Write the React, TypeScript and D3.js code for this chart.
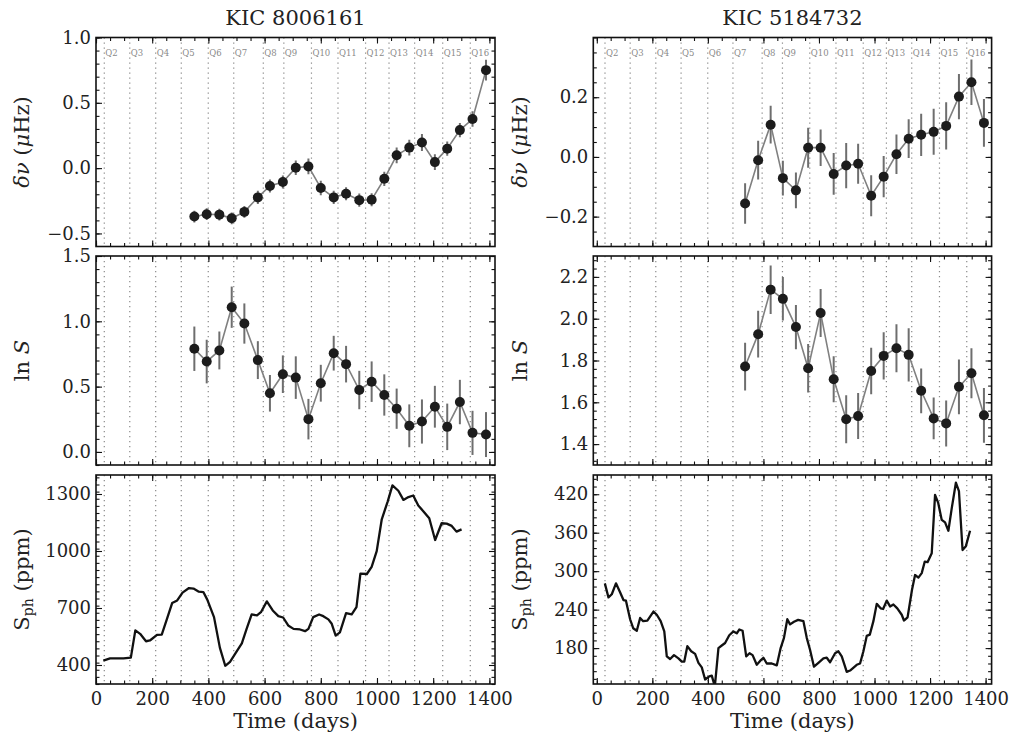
import React, { useEffect, useRef } from 'react';
import * as d3 from 'd3';

// quarter start lines (days) and their names
const quarterNames = ['Q2', 'Q3', 'Q4', 'Q5', 'Q6', 'Q7', 'Q8', 'Q9', 'Q10', 'Q11', 'Q12', 'Q13', 'Q14', 'Q15', 'Q16'];
const quarterStarts = [29.5, 120.2, 212.4, 303.5, 399.5, 490.2, 595.4, 668.5, 766.8, 861.2, 959.4, 1042.8, 1134, 1233.9, 1332.1];

// KIC 8006161
const timeA = [350, 394, 439, 483, 528, 576, 619, 665, 711, 756, 800, 846, 890, 937, 981, 1026, 1070, 1115, 1160, 1206, 1250, 1295, 1340, 1388];
const dnuA = [-0.371, -0.353, -0.356, -0.384, -0.335, -0.224, -0.137, -0.106, 0.003, 0.013, -0.152, -0.224, -0.196, -0.245, -0.242, -0.082, 0.098, 0.157, 0.196, 0.046, 0.149, 0.291, 0.376, 0.75];
const dnuErrA = [0.045, 0.045, 0.045, 0.045, 0.045, 0.05, 0.05, 0.05, 0.055, 0.06, 0.055, 0.05, 0.05, 0.05, 0.05, 0.055, 0.06, 0.06, 0.065, 0.06, 0.055, 0.055, 0.06, 0.08];
const lnSA = [0.79, 0.692, 0.777, 1.108, 0.983, 0.703, 0.449, 0.595, 0.569, 0.251, 0.526, 0.756, 0.672, 0.474, 0.538, 0.436, 0.331, 0.2, 0.233, 0.346, 0.192, 0.382, 0.146, 0.133];
const lnSErrA = [0.17, 0.167, 0.145, 0.158, 0.154, 0.145, 0.14, 0.144, 0.163, 0.155, 0.141, 0.133, 0.14, 0.147, 0.155, 0.158, 0.154, 0.164, 0.169, 0.16, 0.178, 0.17, 0.169, 0.172];
const sphTimeA = [26, 50, 98, 124, 140, 157, 178, 192, 217, 234, 252, 271, 289, 308, 331, 347, 366, 382, 396, 420, 441, 460, 477, 495, 519, 536, 554, 573, 587, 608, 629, 649, 666, 684, 703, 726, 744, 756, 773, 794, 809, 827, 839, 853, 868, 890, 910, 927, 941, 964, 981, 999, 1017, 1038, 1055, 1076, 1094, 1112, 1129, 1147, 1164, 1186, 1207, 1230, 1248, 1266, 1283, 1301];
const sphA = [423, 435, 435, 439, 582, 564, 525, 529, 559, 560, 640, 726, 740, 781, 805, 802, 786, 784, 744, 652, 490, 396, 417, 458, 514, 590, 666, 661, 678, 735, 687, 657, 650, 608, 590, 587, 578, 590, 652, 666, 657, 640, 617, 555, 572, 673, 666, 705, 881, 879, 916, 999, 1167, 1260, 1345, 1317, 1269, 1284, 1292, 1239, 1211, 1172, 1058, 1146, 1144, 1132, 1102, 1114];

// KIC 5184732
const timeB = [534, 581, 626, 670, 717, 761, 806, 853, 898, 941, 988, 1033, 1079, 1123, 1168, 1213, 1258, 1304, 1349, 1394];
const dnuB = [-0.156, -0.011, 0.108, -0.071, -0.112, 0.031, 0.031, -0.057, -0.029, -0.023, -0.13, -0.066, 0.009, 0.061, 0.074, 0.084, 0.104, 0.202, 0.25, 0.114];
const dnuErrB = [0.068, 0.065, 0.063, 0.058, 0.06, 0.067, 0.061, 0.07, 0.076, 0.067, 0.069, 0.069, 0.066, 0.065, 0.071, 0.077, 0.079, 0.076, 0.076, 0.08];
const lnSB = [1.771, 1.926, 2.139, 2.095, 1.96, 1.763, 2.027, 1.71, 1.519, 1.534, 1.75, 1.822, 1.859, 1.827, 1.655, 1.523, 1.499, 1.674, 1.739, 1.538];
const lnSErrB = [0.114, 0.112, 0.116, 0.104, 0.106, 0.116, 0.115, 0.11, 0.115, 0.11, 0.111, 0.113, 0.115, 0.127, 0.107, 0.1, 0.11, 0.131, 0.12, 0.131];
const sphTimeB = [29, 42, 54, 69, 83, 96, 105, 120, 131, 144, 156, 167, 182, 204, 216, 230, 243, 252, 264, 278, 294, 306, 315, 326, 340, 354, 366, 378, 390, 405, 414, 425, 438, 450, 462, 477, 492, 504, 513, 525, 538, 550, 561, 576, 588, 600, 612, 630, 648, 662, 674, 686, 696, 710, 725, 744, 756, 768, 782, 798, 816, 828, 840, 858, 870, 882, 894, 900, 912, 936, 948, 960, 972, 983, 996, 1008, 1022, 1031, 1044, 1056, 1068, 1082, 1098, 1106, 1119, 1135, 1146, 1158, 1170, 1181, 1191, 1206, 1218, 1229, 1242, 1254, 1266, 1278, 1293, 1304, 1317, 1329, 1344];
const sphB = [281, 259, 264, 281, 268, 255, 254, 225, 211, 207, 227, 222, 223, 237, 232, 222, 206, 167, 163, 169, 164, 159, 159, 183, 175, 171, 157, 150, 131, 136, 137, 120, 180, 184, 188, 200, 206, 203, 209, 207, 167, 172, 169, 154, 160, 165, 156, 156, 153, 180, 196, 225, 217, 221, 224, 222, 196, 177, 151, 157, 164, 165, 158, 172, 175, 167, 151, 143, 145, 154, 156, 175, 199, 201, 222, 249, 242, 241, 254, 245, 248, 242, 232, 223, 228, 271, 294, 290, 297, 315, 314, 328, 419, 407, 380, 376, 363, 398, 438, 425, 333, 339, 363];

// per column x domain and pixel range
const xDomains = [[0, 1420], [-12.6, 1421.6]];
const colX = [96, 593.3];
const panelW = [399, 398.3];
const rowY = [37.5, 256, 475];
const panelH = 209;

type Panel = {
  col: number; row: number; yDomain: number[]; yMajor: number[]; yMinorStep: number; fmt: string;
  points?: { t: number[]; v: number[]; e: number[] }; curve?: { t: number[]; v: number[] };
  showQ: boolean; showX: boolean;
};

const panels: Panel[] = [
  { col: 0, row: 0, yDomain: [-0.6, 1.0], yMajor: [-0.5, 0, 0.5, 1.0], yMinorStep: 0.1, fmt: '.1f', points: { t: timeA, v: dnuA, e: dnuErrA }, showQ: true, showX: false },
  { col: 1, row: 0, yDomain: [-0.3, 0.4], yMajor: [-0.2, 0, 0.2], yMinorStep: 0.05, fmt: '.1f', points: { t: timeB, v: dnuB, e: dnuErrB }, showQ: true, showX: false },
  { col: 0, row: 1, yDomain: [-0.1, 1.5], yMajor: [0, 0.5, 1.0, 1.5], yMinorStep: 0.1, fmt: '.1f', points: { t: timeA, v: lnSA, e: lnSErrA }, showQ: false, showX: false },
  { col: 1, row: 1, yDomain: [1.3, 2.3], yMajor: [1.4, 1.6, 1.8, 2.0, 2.2], yMinorStep: 0.04, fmt: '.1f', points: { t: timeB, v: lnSB, e: lnSErrB }, showQ: false, showX: false },
  { col: 0, row: 2, yDomain: [300, 1400], yMajor: [400, 700, 1000, 1300], yMinorStep: 37.5, fmt: 'd', curve: { t: sphTimeA, v: sphA }, showQ: false, showX: true },
  { col: 1, row: 2, yDomain: [124, 450], yMajor: [180, 240, 300, 360, 420], yMinorStep: 12, fmt: 'd', curve: { t: sphTimeB, v: sphB }, showQ: false, showX: true },
];

const FONT = 'DejaVu Serif, serif';

export default function App() {
  const ref = useRef<SVGSVGElement>(null);

  useEffect(() => {
    const svg = d3.select(ref.current);
    svg.selectAll('*').remove();

    panels.forEach((p, i) => {
      const x0 = colX[p.col], y0 = rowY[p.row], w = panelW[p.col];
      const x = d3.scaleLinear().domain(xDomains[p.col]).range([x0, x0 + w]);
      const y = d3.scaleLinear().domain(p.yDomain).range([y0 + panelH, y0]);
      const g = svg.append('g');

      g.append('clipPath').attr('id', 'clip' + i)
        .append('rect').attr('x', x0).attr('y', y0).attr('width', w).attr('height', panelH);

      // quarter lines
      g.selectAll('line.q').data(quarterStarts).enter().append('line')
        .attr('x1', d => x(d)).attr('x2', d => x(d))
        .attr('y1', y0).attr('y2', y0 + panelH)
        .attr('stroke', '#8a8a8a').attr('stroke-width', 1.2).attr('stroke-dasharray', '1.3,3.7');

      if (p.showQ) {
        g.selectAll('text.q').data(quarterStarts).enter().append('text')
          .attr('x', d => x(d) + 1).attr('y', y0 + 18)
          .attr('font-family', FONT).attr('font-size', 8.5).attr('fill', '#8a8a8a')
          .text((d, k) => quarterNames[k]);
      }

      const plot = g.append('g').attr('clip-path', `url(#clip${i})`);

      if (p.points) {
        const pts = p.points.t.map((t, k) => ({ t, v: p.points!.v[k], e: p.points!.e[k] }));
        plot.selectAll('line.err').data(pts).enter().append('line')
          .attr('x1', d => x(d.t)).attr('x2', d => x(d.t))
          .attr('y1', d => y(d.v - d.e)).attr('y2', d => y(d.v + d.e))
          .attr('stroke', '#6e6e6e').attr('stroke-width', 2);
        const line = d3.line<{ t: number; v: number }>().x(d => x(d.t)).y(d => y(d.v));
        plot.append('path').datum(pts).attr('d', line)
          .attr('fill', 'none').attr('stroke', '#808080').attr('stroke-width', 1.6);
        plot.selectAll('circle').data(pts).enter().append('circle')
          .attr('cx', d => x(d.t)).attr('cy', d => y(d.v)).attr('r', 5)
          .attr('fill', '#1c1c1c');
      }

      if (p.curve) {
        const pts = p.curve.t.map((t, k) => ({ t, v: p.curve!.v[k] }));
        const line = d3.line<{ t: number; v: number }>().x(d => x(d.t)).y(d => y(d.v));
        plot.append('path').datum(pts).attr('d', line)
          .attr('fill', 'none').attr('stroke', '#111').attr('stroke-width', 2.3)
          .attr('stroke-linejoin', 'round');
      }

      // ticks, inward on all sides
      const xMajor = d3.range(0, 1401, 200);
      const xMinor = d3.range(0, 1401, 50);
      const yMinor = d3.range(Math.ceil(p.yDomain[0] / p.yMinorStep) * p.yMinorStep, p.yDomain[1] + 1e-9, p.yMinorStep);
      const fmt = d3.format(p.fmt);

      const addAxis = (axis: any, tx: number, ty: number, labels: boolean) => {
        const a = g.append('g').attr('transform', `translate(${tx},${ty})`).call(axis);
        a.select('.domain').remove();
        a.selectAll('line').attr('stroke', '#111').attr('stroke-width', 1.1);
        if (labels) a.selectAll('text').attr('font-family', FONT).attr('font-size', 18).attr('fill', '#222');
        else a.selectAll('text').remove();
      };

      addAxis(d3.axisBottom(x).tickValues(xMajor).tickSizeInner(-6).tickSizeOuter(0).tickPadding(8).tickFormat(d3.format('d')), 0, y0 + panelH, p.showX);
      addAxis(d3.axisBottom(x).tickValues(xMinor).tickSizeInner(-3.5).tickSizeOuter(0), 0, y0 + panelH, false);
      addAxis(d3.axisTop(x).tickValues(xMajor).tickSizeInner(-6).tickSizeOuter(0), 0, y0, false);
      addAxis(d3.axisTop(x).tickValues(xMinor).tickSizeInner(-3.5).tickSizeOuter(0), 0, y0, false);
      addAxis(d3.axisLeft(y).tickValues(p.yMajor).tickSizeInner(-6).tickSizeOuter(0).tickPadding(5).tickFormat(fmt as any), x0, 0, true);
      addAxis(d3.axisLeft(y).tickValues(yMinor).tickSizeInner(-3.5).tickSizeOuter(0), x0, 0, false);
      addAxis(d3.axisRight(y).tickValues(p.yMajor).tickSizeInner(-6).tickSizeOuter(0), x0 + w, 0, false);
      addAxis(d3.axisRight(y).tickValues(yMinor).tickSizeInner(-3.5).tickSizeOuter(0), x0 + w, 0, false);

      g.append('rect').attr('x', x0).attr('y', y0).attr('width', w).attr('height', panelH)
        .attr('fill', 'none').attr('stroke', '#111').attr('stroke-width', 1.6);
    });

    // titles
    ['KIC 8006161', 'KIC 5184732'].forEach((t, c) => {
      svg.append('text').attr('x', colX[c] + panelW[c] / 2).attr('y', 25)
        .attr('text-anchor', 'middle').attr('font-family', FONT).attr('font-size', 21).attr('fill', '#222')
        .text(t);
    });

    // x labels
    colX.forEach((cx, c) => {
      svg.append('text').attr('x', cx + panelW[c] / 2).attr('y', 728)
        .attr('text-anchor', 'middle').attr('font-family', FONT).attr('font-size', 21).attr('fill', '#222')
        .text('Time (days)');
    });

    // y labels
    const labelX = [29, 527];
    colX.forEach((cx, c) => {
      rowY.forEach((ry, r) => {
        const t = svg.append('text')
          .attr('transform', `translate(${labelX[c]},${ry + panelH / 2}) rotate(-90)`)
          .attr('text-anchor', 'middle').attr('font-family', FONT).attr('font-size', 21).attr('fill', '#222');
        if (r === 0) {
          t.append('tspan').attr('font-style', 'italic').text('δν');
          t.append('tspan').text(' (');
          t.append('tspan').attr('font-style', 'italic').text('μ');
          t.append('tspan').text('Hz)');
        } else if (r === 1) {
          t.append('tspan').text('ln ');
          t.append('tspan').attr('font-style', 'italic').text('S');
        } else {
          t.append('tspan').text('S');
          t.append('tspan').attr('font-size', 14).attr('dy', 4).text('ph');
          t.append('tspan').attr('dy', -4).text(' (ppm)');
        }
      });
    });
  }, []);

  return (
    <div style={{ position: 'absolute', left: 0, top: 0 }}>
      <svg ref={ref} width={1010} height={736} style={{ background: '#fff', display: 'block' }} />
    </div>
  );
}
